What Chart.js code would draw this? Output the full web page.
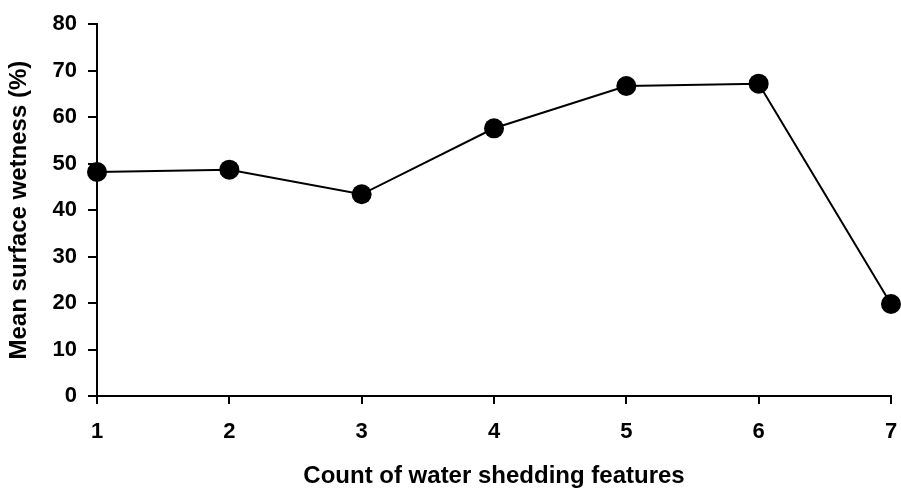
<!DOCTYPE html>
<html>
<head>
<meta charset="utf-8">
<script src="https://cdn.jsdelivr.net/npm/chart.js"></script>
<style>
  html, body { margin: 0; padding: 0; background: #fff; }
  #wrap { width: 901px; height: 488px; position: relative; }
</style>
</head>
<body>
<div id="wrap"><canvas id="wetChart"></canvas></div>
<script>
// values
const featureCounts = [1, 2, 3, 4, 5, 6, 7];
const meanWetness = [48.2, 48.7, 43.4, 57.6, 66.7, 67.2, 19.8];
const xTitle = 'Count of water shedding features';
const yTitle = 'Mean surface wetness (%)';

const points = featureCounts.map(function(c, i) {
    return { x: c, y: meanWetness[i] };
});

const fontFamily = '"Liberation Sans", Arial, sans-serif';

new Chart(document.getElementById('wetChart'), {
    type: 'line',
    data: {
        datasets: [{
            data: points,
            borderColor: '#000',
            borderWidth: 2,
            pointRadius: 10,
            pointHoverRadius: 10,
            pointBackgroundColor: '#000',
            pointBorderColor: '#000',
            pointBorderWidth: 0,
            tension: 0,
            clip: false
        }]
    },
    options: {
        responsive: true,
        maintainAspectRatio: false,
        animation: false,
        layout: { padding: { top: 24, right: 0, left: 0, bottom: 0 } },
        plugins: {
            legend: { display: false },
            tooltip: { enabled: false }
        },
        scales: {
            x: {
                type: 'linear',
                min: 1,
                max: 7,
                offset: false,
                afterFit: function(scale) {
                    scale.height = 92;
                    scale.paddingRight = 5;
                },
                border: { color: '#000', width: 2 },
                grid: { drawOnChartArea: false, drawTicks: true, tickLength: 8, color: '#000', lineWidth: 2 },
                ticks: {
                    stepSize: 1,
                    padding: 15,
                    color: '#000',
                    font: { family: fontFamily, size: 22, weight: 'bold' }
                },
                title: {
                    display: true,
                    text: xTitle,
                    color: '#000',
                    padding: { top: 0, bottom: -3 },
                    font: { family: fontFamily, size: 24, weight: 'bold' }
                }
            },
            y: {
                min: 0,
                max: 80,
                afterFit: function(scale) { scale.width = 97; },
                border: { color: '#000', width: 2 },
                grid: { drawOnChartArea: false, drawTicks: true, tickLength: 9, color: '#000', lineWidth: 2 },
                ticks: {
                    stepSize: 10,
                    padding: 11,
                    color: '#000',
                    font: { family: fontFamily, size: 22, weight: 'bold' }
                },
                title: {
                    display: true,
                    text: yTitle,
                    color: '#000',
                    padding: { top: 5, bottom: 0 },
                    font: { family: fontFamily, size: 24, weight: 'bold' }
                }
            }
        }
    }
});
</script>
</body>
</html>
